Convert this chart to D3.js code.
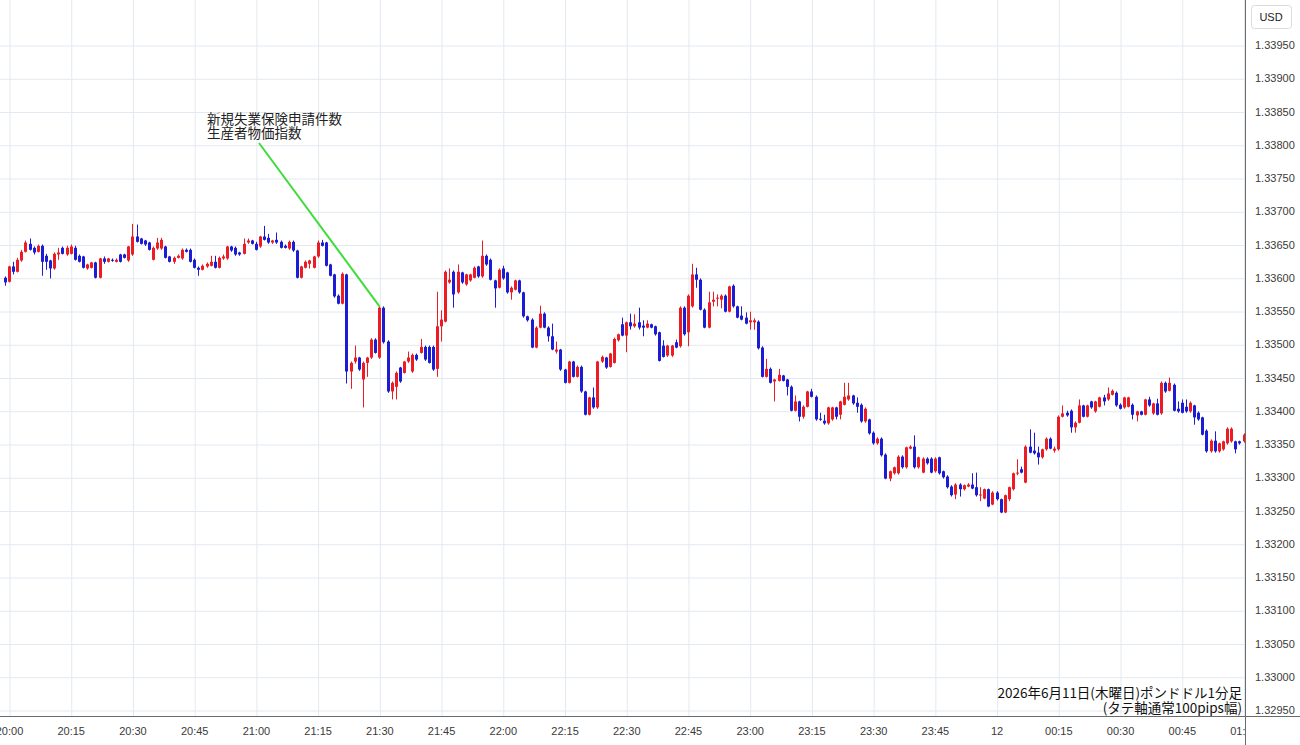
<!DOCTYPE html>
<html>
<head>
<meta charset="utf-8">
<script src="https://cdn.jsdelivr.net/npm/d3@7"></script>
<style>
  body { margin: 0; background: #fff; }
  svg { display: block; }
</style>
</head>
<body>
<script>
// GBP/USD 1-minute candles, 19:59 -> 01:00
const firstTime = new Date(2026, 5, 11, 19, 59);

const openP = [1.33600,
1.33594,1.33617,1.33609,1.33626,1.33639,1.33651,1.33645,1.33639,1.33648,1.33633,
1.33626,1.33614,1.33635,1.33645,1.33635,1.33636,1.33645,1.33633,1.33632,1.33614,
1.33615,1.33623,1.33600,1.33629,1.33624,1.33627,1.33624,1.33635,1.33635,1.33626,
1.33635,1.33662,1.33659,1.33656,1.33653,1.33627,1.33644,1.33644,1.33647,1.33632,
1.33624,1.33630,1.33629,1.33642,1.33642,1.33627,1.33615,1.33612,1.33617,1.33618,
1.33624,1.33615,1.33629,1.33629,1.33647,1.33645,1.33638,1.33636,1.33653,1.33656,
1.33651,1.33647,1.33662,1.33660,1.33653,1.33657,1.33654,1.33648,1.33644,1.33654,
1.33641,1.33600,1.33615,1.33621,1.33615,1.33632,1.33653,1.33653,1.33620,1.33605,
1.33573,1.33561,1.33605,1.33459,1.33474,1.33480,1.33447,1.33472,1.33480,1.33507,
1.33480,1.33555,1.33504,1.33429,1.33436,1.33465,1.33457,1.33474,1.33459,1.33484,
1.33487,1.33496,1.33496,1.33496,1.33463,1.33527,1.33534,1.33593,1.33609,1.33578,
1.33608,1.33590,1.33596,1.33600,1.33617,1.33602,1.33633,1.33627,1.33596,1.33585,
1.33614,1.33608,1.33578,1.33582,1.33596,1.33578,1.33542,1.33537,1.33495,1.33525,
1.33546,1.33525,1.33512,1.33489,1.33492,1.33462,1.33442,1.33474,1.33451,1.33466,
1.33429,1.33394,1.33420,1.33405,1.33474,1.33480,1.33466,1.33472,1.33506,1.33530,
1.33513,1.33533,1.33527,1.33533,1.33528,1.33525,1.33530,1.33527,1.33518,1.33498,
1.33483,1.33483,1.33503,1.33497,1.33555,1.33518,1.33557,1.33605,1.33597,1.33552,
1.33525,1.33564,1.33569,1.33567,1.33573,1.33549,1.33588,1.33557,1.33543,1.33540,
1.33533,1.33533,1.33534,1.33495,1.33451,1.33463,1.33444,1.33445,1.33453,1.33447,
1.33436,1.33400,1.33414,1.33391,1.33406,1.33429,1.33421,1.33388,1.33385,1.33381,
1.33387,1.33405,1.33394,1.33409,1.33417,1.33423,1.33412,1.33409,1.33384,1.33387,
1.33367,1.33351,1.33358,1.33334,1.33298,1.33306,1.33306,1.33331,1.33315,1.33343,
1.33346,1.33315,1.33307,1.33328,1.33328,1.33309,1.33330,1.33309,1.33301,1.33286,
1.33274,1.33289,1.33282,1.33286,1.33289,1.33285,1.33273,1.33268,1.33282,1.33259,
1.33277,1.33267,1.33247,1.33267,1.33282,1.33306,1.33312,1.33292,1.33346,1.33340,
1.33337,1.33330,1.33342,1.33358,1.33340,1.33342,1.33391,1.33397,1.33400,1.33375,
1.33382,1.33408,1.33391,1.33414,1.33399,1.33406,1.33420,1.33417,1.33424,1.33427,
1.33409,1.33405,1.33406,1.33409,1.33393,1.33399,1.33394,1.33417,1.33396,1.33411,
1.33396,1.33442,1.33430,1.33439,1.33403,1.33412,1.33406,1.33399,1.33408,1.33397,
1.33390,1.33370,1.33339,1.33355,1.33339,1.33342,1.33351,1.33354,1.33354,1.33354,
1.33354];

const highP = [1.33602,
1.33618,1.33624,1.33630,1.33642,1.33656,1.33659,1.33647,1.33650,1.33650,1.33636,
1.33627,1.33638,1.33645,1.33647,1.33648,1.33650,1.33648,1.33635,1.33633,1.33621,
1.33624,1.33624,1.33630,1.33632,1.33630,1.33629,1.33629,1.33636,1.33636,1.33648,
1.33681,1.33680,1.33660,1.33657,1.33654,1.33647,1.33660,1.33660,1.33648,1.33633,
1.33632,1.33635,1.33644,1.33644,1.33644,1.33629,1.33617,1.33620,1.33623,1.33633,
1.33633,1.33632,1.33635,1.33648,1.33648,1.33647,1.33639,1.33659,1.33659,1.33657,
1.33654,1.33663,1.33678,1.33666,1.33657,1.33668,1.33656,1.33650,1.33656,1.33656,
1.33642,1.33618,1.33626,1.33627,1.33633,1.33656,1.33657,1.33654,1.33621,1.33606,
1.33575,1.33608,1.33606,1.33474,1.33498,1.33481,1.33474,1.33481,1.33509,1.33509,
1.33557,1.33557,1.33506,1.33444,1.33459,1.33466,1.33475,1.33489,1.33486,1.33486,
1.33508,1.33498,1.33498,1.33498,1.33579,1.33551,1.33611,1.33614,1.33611,1.33620,
1.33609,1.33606,1.33606,1.33617,1.33618,1.33656,1.33635,1.33629,1.33597,1.33614,
1.33618,1.33609,1.33587,1.33597,1.33597,1.33579,1.33543,1.33539,1.33527,1.33558,
1.33548,1.33527,1.33531,1.33504,1.33493,1.33463,1.33475,1.33475,1.33468,1.33468,
1.33430,1.33421,1.33435,1.33475,1.33483,1.33481,1.33487,1.33510,1.33516,1.33540,
1.33534,1.33546,1.33545,1.33555,1.33536,1.33536,1.33531,1.33528,1.33519,1.33506,
1.33499,1.33499,1.33507,1.33557,1.33557,1.33575,1.33621,1.33615,1.33599,1.33554,
1.33579,1.33579,1.33575,1.33575,1.33575,1.33588,1.33590,1.33558,1.33557,1.33548,
1.33549,1.33539,1.33536,1.33497,1.33478,1.33465,1.33448,1.33463,1.33454,1.33448,
1.33438,1.33423,1.33415,1.33408,1.33430,1.33433,1.33423,1.33397,1.33394,1.33406,
1.33406,1.33406,1.33415,1.33442,1.33442,1.33424,1.33420,1.33411,1.33405,1.33388,
1.33369,1.33360,1.33360,1.33336,1.33310,1.33316,1.33333,1.33333,1.33346,1.33348,
1.33363,1.33331,1.33330,1.33330,1.33330,1.33330,1.33331,1.33310,1.33303,1.33288,
1.33291,1.33291,1.33289,1.33291,1.33306,1.33307,1.33285,1.33283,1.33283,1.33279,
1.33279,1.33268,1.33274,1.33286,1.33307,1.33327,1.33316,1.33348,1.33372,1.33367,
1.33346,1.33343,1.33360,1.33360,1.33346,1.33393,1.33408,1.33400,1.33402,1.33384,
1.33417,1.33409,1.33409,1.33415,1.33415,1.33421,1.33424,1.33435,1.33432,1.33429,
1.33411,1.33421,1.33421,1.33411,1.33400,1.33400,1.33418,1.33421,1.33412,1.33418,
1.33444,1.33444,1.33450,1.33441,1.33414,1.33417,1.33417,1.33414,1.33409,1.33399,
1.33391,1.33372,1.33357,1.33369,1.33352,1.33355,1.33375,1.33375,1.33355,1.33355,
1.33366];

const lowP = [1.33588,
1.33593,1.33605,1.33608,1.33624,1.33638,1.33641,1.33635,1.33638,1.33603,1.33612,
1.33599,1.33612,1.33627,1.33635,1.33633,1.33635,1.33626,1.33623,1.33614,1.33612,
1.33614,1.33599,1.33599,1.33621,1.33623,1.33624,1.33623,1.33623,1.33629,1.33624,
1.33633,1.33653,1.33650,1.33648,1.33641,1.33626,1.33642,1.33642,1.33629,1.33623,
1.33621,1.33629,1.33627,1.33638,1.33623,1.33614,1.33603,1.33611,1.33615,1.33617,
1.33614,1.33614,1.33627,1.33627,1.33639,1.33633,1.33633,1.33635,1.33651,1.33650,
1.33641,1.33645,1.33656,1.33651,1.33651,1.33651,1.33644,1.33644,1.33642,1.33639,
1.33599,1.33599,1.33614,1.33614,1.33614,1.33630,1.33647,1.33617,1.33602,1.33570,
1.33560,1.33560,1.33441,1.33433,1.33471,1.33460,1.33405,1.33451,1.33478,1.33486,
1.33478,1.33501,1.33427,1.33417,1.33417,1.33442,1.33456,1.33472,1.33457,1.33475,
1.33486,1.33475,1.33471,1.33460,1.33451,1.33504,1.33533,1.33591,1.33555,1.33576,
1.33591,1.33588,1.33594,1.33599,1.33600,1.33600,1.33618,1.33596,1.33555,1.33584,
1.33597,1.33576,1.33567,1.33581,1.33576,1.33540,1.33534,1.33494,1.33494,1.33524,
1.33524,1.33504,1.33491,1.33486,1.33460,1.33441,1.33441,1.33450,1.33450,1.33427,
1.33393,1.33393,1.33403,1.33403,1.33472,1.33463,1.33465,1.33471,1.33504,1.33512,
1.33488,1.33522,1.33525,1.33522,1.33512,1.33524,1.33524,1.33513,1.33474,1.33480,
1.33481,1.33481,1.33494,1.33495,1.33513,1.33497,1.33555,1.33585,1.33551,1.33524,
1.33524,1.33557,1.33557,1.33554,1.33548,1.33548,1.33555,1.33539,1.33536,1.33530,
1.33522,1.33522,1.33492,1.33450,1.33450,1.33441,1.33414,1.33444,1.33444,1.33423,
1.33399,1.33399,1.33384,1.33388,1.33405,1.33420,1.33385,1.33385,1.33379,1.33379,
1.33385,1.33387,1.33387,1.33408,1.33415,1.33409,1.33397,1.33382,1.33382,1.33364,
1.33349,1.33349,1.33331,1.33297,1.33294,1.33304,1.33304,1.33313,1.33313,1.33342,
1.33313,1.33313,1.33306,1.33319,1.33306,1.33307,1.33304,1.33298,1.33283,1.33271,
1.33267,1.33271,1.33280,1.33285,1.33282,1.33271,1.33264,1.33267,1.33255,1.33258,
1.33265,1.33246,1.33246,1.33264,1.33280,1.33303,1.33306,1.33291,1.33336,1.33334,
1.33319,1.33328,1.33340,1.33342,1.33337,1.33340,1.33390,1.33391,1.33367,1.33367,
1.33381,1.33390,1.33390,1.33403,1.33397,1.33405,1.33408,1.33415,1.33423,1.33406,
1.33402,1.33403,1.33405,1.33387,1.33384,1.33393,1.33393,1.33406,1.33394,1.33393,
1.33394,1.33427,1.33429,1.33399,1.33397,1.33396,1.33397,1.33397,1.33379,1.33385,
1.33363,1.33337,1.33337,1.33337,1.33337,1.33340,1.33349,1.33352,1.33336,1.33349,
1.33352];

const closeP = [1.33593,
1.33617,1.33609,1.33627,1.33639,1.33653,1.33642,1.33638,1.33648,1.33624,1.33624,
1.33614,1.33636,1.33638,1.33636,1.33645,1.33647,1.33627,1.33624,1.33615,1.33620,
1.33623,1.33600,1.33629,1.33624,1.33629,1.33626,1.33627,1.33624,1.33630,1.33647,
1.33662,1.33654,1.33651,1.33650,1.33642,1.33645,1.33653,1.33657,1.33630,1.33624,
1.33630,1.33633,1.33642,1.33639,1.33624,1.33615,1.33612,1.33618,1.33621,1.33624,
1.33615,1.33630,1.33632,1.33647,1.33641,1.33635,1.33635,1.33651,1.33656,1.33651,
1.33642,1.33662,1.33657,1.33653,1.33656,1.33653,1.33645,1.33645,1.33654,1.33641,
1.33600,1.33617,1.33624,1.33626,1.33632,1.33653,1.33648,1.33618,1.33603,1.33572,
1.33561,1.33606,1.33459,1.33472,1.33480,1.33462,1.33472,1.33480,1.33507,1.33487,
1.33555,1.33503,1.33429,1.33442,1.33457,1.33444,1.33474,1.33480,1.33484,1.33477,
1.33496,1.33477,1.33472,1.33462,1.33527,1.33537,1.33609,1.33597,1.33575,1.33609,
1.33593,1.33605,1.33605,1.33615,1.33602,1.33633,1.33620,1.33597,1.33584,1.33612,
1.33599,1.33578,1.33585,1.33596,1.33578,1.33542,1.33536,1.33495,1.33525,1.33546,
1.33525,1.33512,1.33492,1.33492,1.33462,1.33442,1.33474,1.33451,1.33466,1.33429,
1.33394,1.33420,1.33405,1.33474,1.33481,1.33465,1.33486,1.33508,1.33515,1.33513,
1.33533,1.33527,1.33531,1.33525,1.33525,1.33531,1.33525,1.33515,1.33475,1.33481,
1.33498,1.33498,1.33495,1.33555,1.33515,1.33573,1.33605,1.33597,1.33552,1.33525,
1.33563,1.33567,1.33570,1.33573,1.33549,1.33587,1.33557,1.33540,1.33537,1.33531,
1.33536,1.33536,1.33494,1.33451,1.33463,1.33442,1.33447,1.33454,1.33445,1.33436,
1.33400,1.33414,1.33391,1.33406,1.33429,1.33421,1.33387,1.33387,1.33381,1.33405,
1.33405,1.33391,1.33414,1.33421,1.33423,1.33411,1.33406,1.33384,1.33403,1.33366,
1.33351,1.33358,1.33333,1.33298,1.33309,1.33315,1.33331,1.33315,1.33345,1.33346,
1.33315,1.33330,1.33328,1.33321,1.33307,1.33328,1.33306,1.33300,1.33285,1.33273,
1.33289,1.33282,1.33288,1.33289,1.33283,1.33273,1.33274,1.33282,1.33256,1.33277,
1.33267,1.33247,1.33273,1.33285,1.33306,1.33307,1.33307,1.33346,1.33337,1.33336,
1.33330,1.33342,1.33358,1.33343,1.33343,1.33391,1.33396,1.33393,1.33375,1.33382,
1.33408,1.33391,1.33408,1.33405,1.33414,1.33420,1.33414,1.33426,1.33430,1.33408,
1.33403,1.33420,1.33420,1.33394,1.33399,1.33394,1.33417,1.33408,1.33411,1.33394,
1.33442,1.33429,1.33442,1.33400,1.33399,1.33397,1.33399,1.33412,1.33390,1.33387,
1.33364,1.33339,1.33355,1.33339,1.33351,1.33354,1.33373,1.33373,1.33342,1.33351,
1.33364];

const yTickLabels = ["1.32950","1.33000","1.33050","1.33100","1.33150","1.33200","1.33250",
  "1.33300","1.33350","1.33400","1.33450","1.33500","1.33550","1.33600","1.33650",
  "1.33700","1.33750","1.33800","1.33850","1.33900","1.33950"];
const xTickLabels = ["20:00","20:15","20:30","20:45","21:00","21:15","21:30","21:45",
  "22:00","22:15","22:30","22:45","23:00","23:15","23:30","23:45","12","00:15","00:30","00:45","01:00"];
const noteLines = ["新規失業保険申請件数", "生産者物価指数"];
const noteTime = new Date(2026, 5, 11, 21, 30); // candle the note points at
const titleLines = ["2026年6月11日(木曜日)ポンドドル1分足", "(タテ軸通常100pips幅)"];
const currency = "USD";

// canvas
const width = 1300, height = 745;
const plotRight = 1245, plotBottom = 716;
const upColor = "#ec1c24", downColor = "#1c1cd4", gridColor = "#e3e9f0";

const svg = d3.select("body").append("svg")
  .attr("width", width).attr("height", height);

svg.append("rect").attr("width", width).attr("height", height).attr("fill", "#fff");

const n = d3.min([openP.length, highP.length, lowP.length, closeP.length]);
const times = d3.range(n).map(i => d3.timeMinute.offset(firstTime, i));
const tickTimes = d3.timeMinute.every(15).range(new Date(2026, 5, 11, 20, 0), new Date(2026, 5, 12, 1, 1));

const x = d3.scaleTime()
  .domain([new Date(2026, 5, 11, 20, 0), new Date(2026, 5, 12, 1, 0)])
  .range([9, 1243.5]);
const y = d3.scaleLinear().domain([1.3295, 1.3395]).range([710, 45]);

svg.append("clipPath").attr("id", "plotClip")
  .append("rect").attr("x", 0).attr("y", 0).attr("width", plotRight).attr("height", plotBottom);
svg.append("clipPath").attr("id", "xLabClip")
  .append("rect").attr("x", 0).attr("y", plotBottom).attr("width", plotRight).attr("height", height - plotBottom);

//grid
const grid = svg.append("g").attr("clip-path", "url(#plotClip)");
grid.append("g")
  .call(d3.axisBottom(x).tickValues(tickTimes).tickSize(plotBottom).tickFormat(""))
  .call(g => g.select(".domain").remove())
  .selectAll("line").attr("stroke", gridColor).attr("transform", "translate(0.5,0)");
grid.append("g")
  .call(d3.axisRight(y).tickValues(yTickLabels.map(Number)).tickSize(plotRight).tickFormat(""))
  .call(g => g.select(".domain").remove())
  .selectAll("line").attr("stroke", gridColor).attr("transform", "translate(0,0.5)");

//candles
const candles = svg.append("g").attr("clip-path", "url(#plotClip)")
  .selectAll("g").data(d3.range(n)).join("g");
candles.append("line")
  .attr("x1", i => Math.round(x(times[i])) + 0.5)
  .attr("x2", i => Math.round(x(times[i])) + 0.5)
  .attr("y1", i => y(highP[i]))
  .attr("y2", i => y(lowP[i]))
  .attr("stroke", i => closeP[i] >= openP[i] ? upColor : downColor)
  .attr("stroke-width", 1);
candles.append("rect")
  .attr("x", i => Math.round(x(times[i])) - 1)
  .attr("width", 3)
  .attr("y", i => y(Math.max(openP[i], closeP[i])))
  .attr("height", i => Math.max(1, Math.abs(y(openP[i]) - y(closeP[i]))))
  .attr("fill", i => closeP[i] >= openP[i] ? upColor : downColor);

//axis frame
svg.append("line").attr("x1", plotRight + 0.5).attr("x2", plotRight + 0.5)
  .attr("y1", 0).attr("y2", height).attr("stroke", "#6b6b6b");
svg.append("line").attr("x1", 0).attr("x2", width)
  .attr("y1", plotBottom + 0.5).attr("y2", plotBottom + 0.5).attr("stroke", "#6b6b6b");

//x labels (outer group holds the clip, inner group is moved)
svg.append("g").attr("clip-path", "url(#xLabClip)")
  .append("g")
  .attr("transform", `translate(0,${plotBottom})`)
  .call(d3.axisBottom(x).tickValues(tickTimes).tickSize(0).tickPadding(11)
    .tickFormat((d, i) => xTickLabels[i]))
  .call(g => g.select(".domain").remove())
  .selectAll("text")
  .attr("fill", "#3a3a3a")
  .style("font-family", "'Liberation Sans', Arial, sans-serif")
  .style("font-size", "11px");

//y labels
svg.append("g")
  .attr("transform", `translate(${plotRight},0)`)
  .call(d3.axisRight(y).tickValues(yTickLabels.map(Number)).tickSize(0).tickPadding(10)
    .tickFormat((d, i) => yTickLabels[i]))
  .call(g => g.select(".domain").remove())
  .selectAll("text")
  .attr("fill", "#3a3a3a")
  .style("font-family", "'Liberation Sans', Arial, sans-serif")
  .style("font-size", "11px");

//currency box
svg.append("rect").attr("x", 1251.5).attr("y", 5.5).attr("width", 40).attr("height", 23).attr("rx", 3)
  .attr("fill", "#fff").attr("stroke", "#dcdcdc");
svg.append("text").text(currency)
  .attr("x", 1271).attr("y", 21).attr("text-anchor", "middle")
  .attr("fill", "#222")
  .style("font-family", "'Liberation Sans', Arial, sans-serif")
  .style("font-size", "11px");

//annotation
const noteIdx = times.findIndex(t => +t === +noteTime);
svg.append("line")
  .attr("x1", 259).attr("y1", 143)
  .attr("x2", Math.round(x(times[noteIdx])) + 0.5).attr("y2", y(highP[noteIdx]))
  .attr("stroke", "#3fdc3a").attr("stroke-width", 2);
svg.selectAll(".note").data(noteLines).join("text")
  .attr("class", "note")
  .attr("x", 207).attr("y", (d, i) => 123.5 + i * 14.5)
  .attr("fill", "#222")
  .style("font-family", "'Noto Sans CJK JP', sans-serif")
  .style("font-size", "13.5px")
  .text(d => d);

//title, bottom right
svg.selectAll(".title").data(titleLines).join("text")
  .attr("class", "title")
  .attr("x", 1242).attr("y", (d, i) => 697.5 + i * 15)
  .attr("text-anchor", "end")
  .attr("fill", "#111")
  .style("font-family", "'Noto Sans CJK JP', sans-serif")
  .style("font-size", "13.5px")
  .text(d => d);
</script>
</body>
</html>
